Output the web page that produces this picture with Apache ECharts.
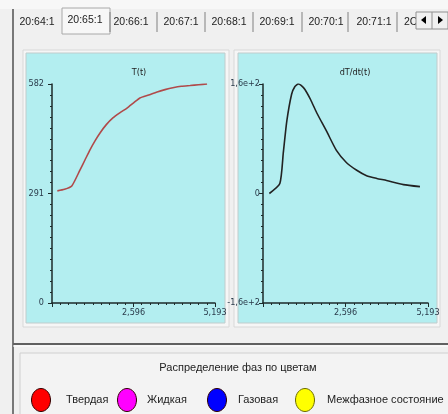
<!DOCTYPE html>
<html><head><meta charset="utf-8">
<script src="https://cdn.jsdelivr.net/npm/echarts@6/dist/echarts.min.js"></script>
<style>html,body{margin:0;padding:0;background:#f0f0f0}#c{width:448px;height:414px}</style>
</head><body><div id="c"></div>
<script>
// ---- data ----
const tabLabels = ['20:64:1','20:65:1','20:66:1','20:67:1','20:68:1','20:69:1','20:70:1','20:71:1','2C'];
const tempTitle = 'T(t)';
const derivTitle = 'dT/dt(t)';
const tempTime = [0.17,0.40,0.63,0.89,1.05,1.21,1.37,1.53,1.73,1.94,2.17,2.39,2.60,2.80,3.08,3.35,3.60,3.85,4.12,4.40,4.67,4.94];
const tempValues = [298,302,311,353,380,407,431,452,474,492,506,518,532,545,553,561,567,572,576,578,580,582];
const derivTime = [0.20,0.53,0.64,0.75,0.90,1.00,1.11,1.20,1.32,1.50,1.69,2.00,2.31,2.63,2.95,3.26,3.58,3.89,4.42,4.94];
const derivValues = [0,14.5,60,106,145,156,160,158,152,137,118,91,63,45,34,26,22,19,13,10];
const xTicks = [0, 2.5965, 5.193];
const xTickLabels = ['', '2,596', '5,193'];
const tempTicks = [0, 291, 582];
const tempTickLabels = ['0', '291', '582'];
const derivTicks = [-160, 0, 160];
const derivTickLabels = ['-1,6e+2', '0', '1,6e+2'];
const legendTitle = 'Распределение фаз по цветам';
const phaseNames = ['Твердая','Жидкая','Газовая','Межфазное состояние'];
const phaseColors = ['#ff0000','#ff00ff','#0000ff','#ffff00'];

// ---- chart ----
const FONT = '"Liberation Sans",Arial,sans-serif';
const NARROW = '"DejaVu Sans Condensed","Liberation Sans",sans-serif';
const chart = echarts.init(document.getElementById('c'), null, {renderer:'canvas'});
function labelFor(ticks, labels){
  return function(v){ for(let i=0;i<ticks.length;i++){ if(Math.abs(v-ticks[i])<1e-6) return labels[i]; } return ''; };
}
const AX = '#1c2a2a';
function xAxisCfg(gi){
  return {type:'value', gridIndex:gi, z:20, min:xTicks[0], max:xTicks[2], interval:xTicks[1]-xTicks[0],
    axisLine:{show:true, onZero:false, lineStyle:{color:AX, width:1.5}},
    axisTick:{show:true, length:4, lineStyle:{color:AX}},
    minorTick:{show:true, splitNumber:10, length:2, lineStyle:{color:AX}},
    splitLine:{show:false},
    axisLabel:{formatter:labelFor(xTicks,xTickLabels), fontSize:9, color:'#2a3a4a', fontFamily:NARROW, margin:5, showMinLabel:true, showMaxLabel:true}};
}
function yAxisCfg(gi, ticks, labels, margin){
  return {type:'value', gridIndex:gi, z:20, min:ticks[0], max:ticks[2], interval:ticks[1]-ticks[0],
    axisLine:{show:true, onZero:false, lineStyle:{color:AX, width:1.5}},
    axisTick:{show:true, length:4, lineStyle:{color:AX}},
    minorTick:{show:true, splitNumber:10, length:2, lineStyle:{color:AX}},
    splitLine:{show:false},
    axisLabel:{formatter:labelFor(ticks,labels), fontSize:9, color:'#2a3a4a', fontFamily:NARROW, margin:margin}};
}
const txt = (t,x,y,opt) => ({type:'text', z:10, style:Object.assign({text:t, x:x, y:y, font:'11px '+FONT, fill:'#222', align:'center', verticalAlign:'middle', textAlign:'center', textVerticalAlign:'middle'}, opt||{})});
const graphics = [];
graphics.push({type:'rect', z:-10, shape:{x:0,y:0,width:448,height:9}, style:{fill:'#f7f7f7'}});
// tab bar
const tabCenters = [37,85,131,181,229,277,326,374,404];
const tabSeps = [110,157,205,253,302,348,397];
graphics.push({type:'rect', z:-8, shape:{x:62,y:8,width:48,height:26}, style:{fill:'#f7f7f7', stroke:'#a8a8a8', lineWidth:1}});
tabSeps.forEach(x=>graphics.push({type:'line', z:-7, shape:{x1:x,y1:12,x2:x,y2:32}, style:{stroke:'#808080', lineWidth:1}}));
tabLabels.forEach((t,i)=>graphics.push(txt(t, tabCenters[i], i===1?20:22, {font:'10.5px '+FONT, align: i===8?'left':'center', textAlign: i===8?'left':'center'})));
// arrows box
graphics.push({type:'rect', z:11, shape:{x:416,y:12,width:32,height:17}, style:{fill:'#f0f0f0', stroke:'#909090', lineWidth:1}});
graphics.push({type:'line', z:12, shape:{x1:432,y1:12,x2:432,y2:29}, style:{stroke:'#909090'}});
graphics.push({type:'polygon', z:12, shape:{points:[[421,20],[426,16],[426,24]]}, style:{fill:'#000'}});
graphics.push({type:'polygon', z:12, shape:{points:[[443,20],[438,16],[438,24]]}, style:{fill:'#000'}});
// left border of content
graphics.push({type:'line', z:-7, shape:{x1:13,y1:9,x2:13,y2:414}, style:{stroke:'#505050', lineWidth:1.5}});
// chart panels
graphics.push({type:'rect', z:-9, shape:{x:23,y:50,width:206,height:277}, style:{fill:'#f6f6f6', stroke:'#d8d8d8', lineWidth:1}});
graphics.push({type:'rect', z:-9, shape:{x:234,y:50,width:206,height:277}, style:{fill:'#f6f6f6', stroke:'#d8d8d8', lineWidth:1}});
graphics.push({type:'rect', z:-8, shape:{x:26,y:53,width:199,height:270}, style:{fill:'#b3eef0', stroke:'#c0cccc', lineWidth:1}});
graphics.push({type:'rect', z:-8, shape:{x:238,y:53,width:199,height:270}, style:{fill:'#b3eef0', stroke:'#c0cccc', lineWidth:1}});
// bottom separator and legend box
graphics.push({type:'line', z:-7, shape:{x1:13,y1:344,x2:448,y2:344}, style:{stroke:'#606060', lineWidth:2}});
graphics.push({type:'line', z:-7, shape:{x1:13,y1:346,x2:448,y2:346}, style:{stroke:'#ffffff', lineWidth:1}});
graphics.push({type:'rect', z:-8, shape:{x:20,y:353,width:440,height:80}, style:{fill:'#f3f3f3', stroke:'#d0d0d0', lineWidth:1}});
graphics.push(txt(legendTitle, 238, 368, {font:'11px '+FONT}));
const cx = [41,127,217,305], lx = [66,147,238,327];
phaseNames.forEach((n,i)=>{
  graphics.push({type:'ellipse', z:5, shape:{cx:cx[i], cy:400, rx:9.5, ry:11.5}, style:{fill:phaseColors[i], stroke: i===3?'#6b6b00':'#300000', lineWidth:1}});
  graphics.push(txt(n, lx[i], 400, {align:'left', textAlign:'left'}));
});

chart.setOption({
  backgroundColor:'#f0f0f0',
  animation:false,
  title:[
    {text:tempTitle, left:134, top:63, textAlign:'center', textStyle:{fontSize:9, fontWeight:'normal', color:'#222', fontFamily:NARROW}},
    {text:derivTitle, left:350, top:63, textAlign:'center', textStyle:{fontSize:9, fontWeight:'normal', color:'#222', fontFamily:NARROW}}
  ],
  grid:[
    {left:52, top:84, width:163, height:219, containLabel:false},
    {left:263, top:84, width:165, height:219, containLabel:false}
  ],
  xAxis:[xAxisCfg(0), xAxisCfg(1)],
  yAxis:[yAxisCfg(0,tempTicks,tempTickLabels,8), yAxisCfg(1,derivTicks,derivTickLabels,3)],
  graphic: graphics,
  series:[
    {type:'line', xAxisIndex:0, yAxisIndex:0, data:tempTime.map((t,i)=>[t,tempValues[i]]), showSymbol:false, smooth:0.2, lineStyle:{color:'#b04a4a', width:1.6}, z:5},
    {type:'line', xAxisIndex:1, yAxisIndex:1, data:derivTime.map((t,i)=>[t,derivValues[i]]), showSymbol:false, smooth:0.2, lineStyle:{color:'#222', width:1.6}, z:5}
  ]
});
</script></body></html>
